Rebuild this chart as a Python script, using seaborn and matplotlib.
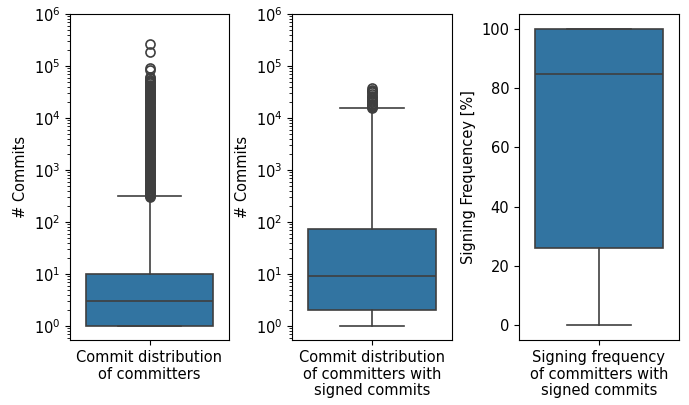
import matplotlib
matplotlib.use("Agg")
import matplotlib.pyplot as plt
from matplotlib.ticker import NullFormatter, FixedLocator
import seaborn as sns

# значения (квартили, усы, выбросы)
labels = [
    "Commit distribution\nof committers",
    "Commit distribution\nof committers with\nsigned commits",
    "Signing frequency\nof committers with\nsigned commits",
]
ylabels = ["# Commits", "# Commits", "Signing Frequencey [%]"]
log_ticks = [1e0, 1e1, 1e2, 1e3, 1e4, 1e5, 1e6]

whislo = [1, 1, 0]
q1 = [1, 2, 26]
med = [3, 9, 84.7]
q3 = [10, 73, 100]
whishi = [316, 15800, 100]

fliers_all = [
    302, 316, 331, 347, 363, 380, 398, 417, 437, 457, 479, 501, 525, 550,
    575, 603, 631, 661, 692, 724, 759, 794, 832, 871, 912, 955,
    1000, 1047, 1096, 1148, 1202, 1259, 1318, 1380, 1445, 1514, 1585, 1660,
    1738, 1820, 1905, 1995, 2089, 2188, 2291, 2399, 2512, 2630, 2754, 2884,
    3020, 3162, 3311, 3467, 3631, 3802, 3981, 4169, 4365, 4571, 4786, 5012,
    5248, 5495, 5754, 6026, 6310, 6607, 6918, 7244, 7586, 7943, 8318, 8710,
    9120, 9550, 10000, 10470, 10960, 11480, 12020, 12590, 13180, 13800,
    14450, 15140, 15850, 16600, 17380, 18200, 19050, 19950, 20890, 21880,
    22910, 23990, 25120, 26300, 27540, 28840, 30200, 31620, 33110, 34670,
    36310, 38020, 39810, 41690, 43650, 46500, 49000, 52000, 55000, 58000,
    62000, 82000, 93000, 190000, 270000,
]
fliers_signed = [15900, 16500, 17200, 18000, 19000, 20000, 21000, 22500,
                 24000, 25500, 27000, 29000, 31000, 33000, 35000, 37000]
fliers_freq = []
fliers = [fliers_all, fliers_signed, fliers_freq]

face = sns.desaturate(sns.color_palette()[0], 0.75)
line = "#3f3f3f"

plt.rcParams["font.size"] = 10.5

fig, axes = plt.subplots(nrows=1, ncols=3, figsize=(6.89, 4.05), dpi=100)

for i, ax in enumerate(axes):
    stats = [dict(whislo=whislo[i], q1=q1[i], med=med[i], q3=q3[i],
                  whishi=whishi[i], fliers=fliers[i])]
    ax.bxp(
        stats, positions=[0], widths=0.8, capwidths=0.4, patch_artist=True,
        boxprops=dict(facecolor=face, edgecolor=line, linewidth=1.2),
        medianprops=dict(color=line, linewidth=1.2),
        whiskerprops=dict(color=line, linewidth=1.2),
        capprops=dict(color=line, linewidth=1.2),
        flierprops=dict(marker="o", markerfacecolor="none",
                        markeredgecolor=line, markersize=6.5,
                        markeredgewidth=1.2),
    )
    ax.set_xlim(-0.5, 0.5)
    ax.set_xticks([0])
    ax.set_xticklabels([labels[i]], linespacing=1.15)
    ax.set_ylabel(ylabels[i])

# логарифмическая шкала для первых двух
for ax in axes[:2]:
    ax.set_yscale("log")
    ax.set_ylim(0.54, 1e6)
    ax.yaxis.set_major_locator(FixedLocator(log_ticks))
    ax.yaxis.set_minor_formatter(NullFormatter())
axes[2].set_ylim(-5, 105)

# положения осей как на рисунке
axes[0].set_position([70 / 689, 65 / 405, 159 / 689, 326 / 405])
axes[1].set_position([292 / 689, 65 / 405, 160 / 689, 326 / 405])
axes[2].set_position([519 / 689, 65 / 405, 160 / 689, 326 / 405])

fig.savefig("out.png", dpi=100)
